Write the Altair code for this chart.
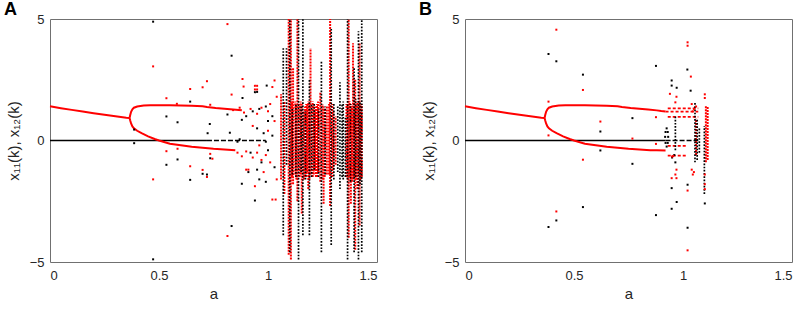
import altair as alt
import pandas as pd

RED = "#ff0000"
BLACK = "#000000"

# ---------------- shared smooth branches ----------------
pre_a = [0, 0.05, 0.1, 0.15, 0.2, 0.25, 0.3, 0.35, 0.365]
pre_v = [1.41, 1.33, 1.26, 1.19, 1.12, 1.06, 1.00, 0.94, 0.93]

up_a = [0.365, 0.368, 0.372, 0.378, 0.385, 0.40, 0.43, 0.46, 0.50, 0.55, 0.60, 0.65, 0.70, 0.72, 0.76, 0.80, 0.84, 0.88]
up_v = [0.93, 1.05, 1.18, 1.28, 1.35, 1.40, 1.44, 1.45, 1.45, 1.45, 1.44, 1.43, 1.41, 1.38, 1.34, 1.31, 1.28, 1.24]
lo_a = [0.365, 0.368, 0.372, 0.378, 0.385, 0.40, 0.42, 0.45, 0.48, 0.50, 0.55, 0.60, 0.65, 0.70, 0.75, 0.80, 0.85]
lo_v = [0.93, 0.82, 0.70, 0.58, 0.50, 0.40, 0.30, 0.17, 0.06, 0.0, -0.13, -0.20, -0.26, -0.30, -0.34, -0.37, -0.40]

upB_a = [0.90, 0.92]
upB_v = [1.21, 1.19]
loB_a = [0.88, 0.92]
loB_v = [-0.40, -0.41]

# zero line (black): solid part and broken part
zeroA_solid = [0.0, 0.72]
zeroA_broken = [0.72, 0.99]
zeroB_solid = [0.0, 0.92]
zeroB_broken = [0.92, 1.07]

# ---------------- panel A streaks (a, low, high) ----------------
A_red_a = [1.06, 1.075, 1.095, 1.105, 1.115, 1.125, 1.135, 1.145, 1.155, 1.165, 1.175, 1.185, 1.195, 1.205,
           1.215, 1.225, 1.24, 1.255, 1.27, 1.285, 1.295, 1.31, 1.36, 1.37, 1.38, 1.39, 1.40, 1.41, 1.42, 1.43,
           1.11, 1.13, 1.15, 1.17, 1.18, 1.19, 1.21, 1.22, 1.23, 1.25, 1.26, 1.28, 1.30,
           1.365, 1.375, 1.385, 1.395, 1.405, 1.415, 1.425]
A_red_lo = [-1.6, -2.2, -4.7, -4.9, -1.8, -1.4, -2.5, -1.5, -3.0, -1.6, -1.5, -2.0, -1.4, -1.5,
            -1.2, -1.5, -1.7, -2.6, -1.4, -2.7, -1.5, -1.0, -1.5, -4.0, -2.6, -1.6, -4.5, -2.0, -3.5, -1.5,
            -1.5, -1.6, -1.4, -1.5, -1.3, -1.6, -1.4, -1.5, -1.3, -1.6, -1.5, -1.4, -1.2,
            -1.6, -1.5, -1.7, -1.5, -1.6, -1.4, -1.6]
A_red_hi = [1.9, 1.6, 5.0, 5.0, 3.0, 1.6, 5.0, 1.5, 1.5, 1.2, 1.5, 1.6, 3.8, 1.6,
            1.2, 1.5, 2.0, 1.4, 1.4, 5.0, 1.5, 1.0, 1.5, 5.0, 1.5, 4.0, 2.5, 1.6, 4.0, 1.5,
            1.6, 1.5, 1.6, 1.4, 1.5, 1.6, 1.5, 1.4, 1.6, 1.5, 1.3, 1.5, 1.2,
            1.5, 1.6, 1.4, 1.6, 1.5, 1.6, 1.5]

A_blk_a = [1.07, 1.085, 1.10, 1.14, 1.16, 1.19, 1.20, 1.245, 1.29, 1.33, 1.34, 1.355, 1.365, 1.395, 1.415, 1.43,
           1.112, 1.128, 1.152, 1.172, 1.212, 1.232, 1.262, 1.302, 1.32, 1.345, 1.378, 1.402, 1.422]
A_blk_lo = [-3.9, -1.0, -4.6, -4.9, -3.9, -3.9, -1.5, -4.6, -4.3, -2.0, -1.5, -1.5, -4.9, -4.6, -4.9, -4.6,
            -1.4, -1.5, -1.3, -1.6, -1.2, -1.5, -1.4, -1.6, -1.3, -1.6, -1.7, -1.5, -1.8]
A_blk_hi = [3.8, 3.8, 5.0, 5.0, 5.0, 2.5, 1.5, 3.3, 4.6, 2.4, 1.5, 1.0, 5.0, 3.0, 4.5, 5.0,
            1.3, 1.5, 1.4, 1.2, 1.5, 1.3, 1.4, 1.5, 1.4, 1.6, 1.5, 1.7, 1.6]

# ---------------- panel A scattered points ----------------
A_pb_a = [0.473, 0.833, 0.643, 0.883, 0.994, 0.94, 0.534, 0.585, 0.733, 0.723, 0.825, 0.814, 0.880, 0.386, 0.386,
          0.534, 0.585, 0.643, 0.70, 0.72, 0.735, 0.833, 0.473, 0.88, 0.94, 0.96, 0.99, 0.95, 0.97, 0.92,
          0.98, 1.0, 1.0, 0.95, 0.93, 0.90, 0.96, 0.99, 1.02, 1.03, 1.02, 0.87, 0.86, 0.99, 0.95, 0.91]
A_pb_v = [4.89, 3.49, 1.60, 1.75, 2.26, 1.99, 0.99, 0.75, 0.68, 0.30, 0.32, 1.07, 0.85, 0.45, -0.11,
          -1.0, -0.78, -1.62, -1.37, -1.40, -0.73, -3.52, -4.89, -1.78, -2.47, -1.6, -1.7, -1.2, -0.9, -0.5,
          0.3, 0.8, -0.4, 0.5, 1.2, 1.0, 1.3, 1.4, 1.0, -1.1, 0.2, 0.05, -0.05, -0.05, 2.0, -1.3]
A_pr_a = [0.814, 0.473, 0.72, 0.70, 0.643, 0.534, 0.582, 0.735, 0.833, 0.883, 0.888, 0.94, 0.95, 0.94, 0.95,
          1.02, 1.03, 0.534, 0.585, 0.643, 0.473, 0.70, 0.72, 0.735, 0.745, 0.814, 0.90, 0.91, 0.94, 1.02,
          1.035, 0.84, 0.87, 0.89, 0.92, 0.95, 0.97, 1.0, 1.01, 0.86, 0.88, 0.9, 0.93, 0.95, 0.97, 0.99,
          1.01, 0.93, 0.96, 1.0, 1.03, 0.98, 1.04, 1.04]
A_pr_v = [4.79, 3.05, 2.44, 2.19, 2.12, 1.74, 1.51, 1.47, 1.89, 2.53, 2.22, 2.25, 2.25, 2.1, 2.1,
          2.2, 2.47, -0.44, -0.34, -1.06, -1.60, -1.21, -1.5, -0.55, -0.75, -3.93, -1.2, -1.2, -1.88, -2.43,
          -2.43, 1.25, 1.35, 1.15, 1.3, 1.1, 1.35, 1.2, 1.5, -0.5, -0.65, -0.45, -0.7, -0.5, -0.8, -0.6,
          -0.9, 0.6, -0.2, 0.4, 0.8, -1.3, -1.6, 1.8]

# ---------------- panel B streaks ----------------
B_blk_a = [1.055, 1.065, 1.075, 1.098, 0.965]
B_blk_lo = [-0.9, -0.8, -0.5, -2.2, -0.4]
B_blk_hi = [1.6, 0.9, 0.5, 0.6, 1.0]
B_red_a = [1.105, 1.113, 1.06]
B_red_lo = [-0.9, -0.8, -0.6]
B_red_hi = [1.45, 1.4, 0.9]

# fork segments (red, broken): a from, a to, value
fork_a1 = [0.93, 0.93, 0.93, 0.93, 0.92]
fork_a2 = [1.07, 1.07, 1.02, 1.02, 1.07]
fork_v = [1.32, 0.97, -0.22, -0.62, 1.19]

# ---------------- panel B scattered points ----------------
B_pb_a = [0.383, 0.419, 0.541, 0.621, 0.621, 0.768, 0.768, 0.541, 0.419, 0.383, 0.876, 0.876, 1.02, 0.948,
          0.948, 0.971, 1.035, 0.948, 0.971, 0.948, 1.021, 1.021, 1.10, 0.95, 0.965, 0.96,
          0.92, 0.93, 0.918, 0.932, 0.92, 0.93, 0.925, 0.925]
B_pb_v = [3.56, 3.26, 2.71, 0.37, -0.41, 0.92, -0.96, -2.74, -3.29, -3.56, 3.07, -3.07, 2.92, 2.47,
          2.26, 2.17, 2.05, -1.96, -2.53, -2.81, -3.59, -1.82, -2.59, -0.7, -0.9, -0.6,
          0.35, 0.35, 0.15, 0.15, -0.1, -0.1, 0.5, -0.25]
B_pr_a = [0.419, 0.541, 0.383, 0.383, 0.621, 0.768, 0.541, 0.419, 0.876, 0.876, 1.021, 1.021, 1.036, 0.94,
          0.97, 0.965, 1.021, 1.021, 0.95, 0.955, 0.97, 0.965, 0.948, 0.97, 1.04, 1.05, 1.045, 1.10,
          1.10, 1.10, 1.10, 1.10, 1.04, 1.05, 1.06, 1.045]
B_pr_v = [4.56, 2.08, 1.60, 0.21, 0.78, 0.08, -0.79, -2.92, 0.96, -0.14, 4.04, 3.9, 2.63, 1.92,
          1.8, 1.57, -4.52, -2.06, -0.66, -0.64, -1.2, -1.4, -1.55, -1.55, -1.2, -1.3, -1.4, -1.4,
          -1.8, -2.0, 1.9, 1.75, 1.5, 1.3, 1.4, 1.2]

panel_letters = ["A", "B"]

FONT = "Liberation Sans"
XS = alt.Scale(domain=[0, 1.5], nice=False, zero=False)
YS = alt.Scale(domain=[-5, 5], nice=False)
xax = alt.Axis(values=[0, 0.5, 1, 1.5], format="~g", title="a", labelPadding=7, titlePadding=4,
               grid=False, ticks=False, domain=False, labelFont=FONT, titleFont=FONT,
               labelFontSize=13, titleFontSize=15, titleFontWeight="normal",
               labelColor="#262626", titleColor="#262626")
yax = alt.Axis(values=[-5, 0, 5], format="~g", title="x₁₁(k), x₁₂(k)", labelPadding=6, titlePadding=8,
               grid=False, ticks=False, domain=False, labelFont=FONT, titleFont=FONT,
               labelFontSize=13, titleFontSize=15, titleFontWeight="normal",
               labelColor="#262626", titleColor="#262626")


def curve_df(parts):
    rows = []
    for i, (aa, vv) in enumerate(parts):
        for a, v in zip(aa, vv):
            rows.append({"a": a, "v": v, "seg": i})
    return pd.DataFrame(rows)


def panel(letter, curves, z_solid, z_broken, blk, red, pts_b, pts_r, forks=None):
    X = alt.X("a:Q", scale=XS, axis=xax)
    Y = alt.Y("v:Q", scale=YS, axis=yax)
    layers = []
    zs = pd.DataFrame({"a": [z_solid[0]], "a2": [z_solid[1]], "v": [0.0]})
    layers.append(alt.Chart(zs).mark_rule(color=BLACK, strokeWidth=1.6).encode(
        x=X, x2="a2:Q", y=Y))
    zb = pd.DataFrame({"a": [z_broken[0]], "a2": [z_broken[1]], "v": [0.0]})
    layers.append(alt.Chart(zb).mark_rule(color=BLACK, strokeWidth=1.6, strokeDash=[5, 2]).encode(
        x=X, x2="a2:Q", y=Y))
    layers.append(alt.Chart(curve_df(curves)).mark_line(color=RED, strokeWidth=2).encode(
        x=X, y=Y, detail="seg:N", order="a:Q"))
    if forks is not None:
        fd = pd.DataFrame({"a": forks[0], "a2": forks[1], "v": forks[2]})
        layers.append(alt.Chart(fd).mark_rule(color=RED, strokeWidth=1.8, strokeDash=[3, 2]).encode(
            x=X, x2="a2:Q", y=Y))
    rd = pd.DataFrame({"a": red[0], "v": red[1], "v2": red[2]})
    layers.append(alt.Chart(rd).mark_rule(color=RED, strokeWidth=2.0, strokeDash=[2.0, 1.0], clip=True).encode(
        x=X, y=Y, y2="v2:Q"))
    bd = pd.DataFrame({"a": blk[0], "v": blk[1], "v2": blk[2]})
    layers.append(alt.Chart(bd).mark_rule(color=BLACK, strokeWidth=1.7, strokeDash=[1.7, 1.5], clip=True).encode(
        x=X, y=Y, y2="v2:Q"))
    pb = pd.DataFrame({"a": pts_b[0], "v": pts_b[1]})
    layers.append(alt.Chart(pb).mark_square(color=BLACK, size=4, opacity=1, clip=True).encode(x=X, y=Y))
    pr = pd.DataFrame({"a": pts_r[0], "v": pts_r[1]})
    layers.append(alt.Chart(pr).mark_square(color=RED, size=4, opacity=1, clip=True).encode(x=X, y=Y))
    # panel letter (label annotation)
    ld = pd.DataFrame({"t": [letter]})
    layers.append(alt.Chart(ld).mark_text(font=FONT, fontSize=18, fontWeight="bold", color=BLACK,
                                          align="left", baseline="bottom").encode(
        text="t:N", x=alt.value(-46), y=alt.value(0)))
    return alt.layer(*layers).properties(width=327, height=243)


chartA = panel(panel_letters[0], [(pre_a, pre_v), (up_a, up_v), (lo_a, lo_v)], zeroA_solid, zeroA_broken,
               (A_blk_a, A_blk_lo, A_blk_hi), (A_red_a, A_red_lo, A_red_hi),
               (A_pb_a, A_pb_v), (A_pr_a, A_pr_v))
chartB = panel(panel_letters[1], [(pre_a, pre_v), (up_a + upB_a, up_v + upB_v), (lo_a + loB_a, lo_v + loB_v)],
               zeroB_solid, zeroB_broken,
               (B_blk_a, B_blk_lo, B_blk_hi), (B_red_a, B_red_lo, B_red_hi),
               (B_pb_a, B_pb_v), (B_pr_a, B_pr_v), forks=(fork_a1, fork_a2, fork_v))

chart = alt.hconcat(chartA, chartB, spacing=40).properties(
    padding={"left": 3, "top": 0, "right": 0, "bottom": 0},
    background="white"
).configure_view(stroke="#707070", strokeWidth=1)

chart.save("out.html", embed_options={"renderer": "svg", "actions": False})
